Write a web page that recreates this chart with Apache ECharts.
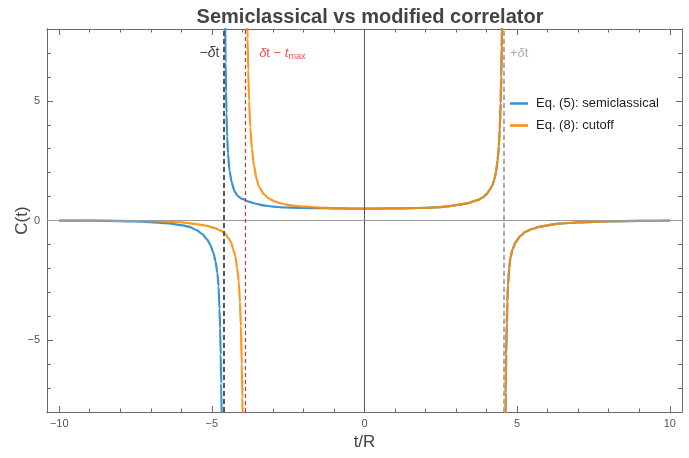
<!DOCTYPE html>
<html><head><meta charset="utf-8">
<script src="https://cdn.jsdelivr.net/npm/echarts@6/dist/echarts.min.js"></script>
<style>html,body{margin:0;padding:0;background:#fff}#c{width:689px;height:458px}</style>
</head><body><div id="c"></div>
<script>
// ---- tick labels ----
const xMajorTicks = [-10, -5, 0, 5, 10];
const xMinorTicks = [-9, -8, -7, -6, -4, -3, -2, -1, 1, 2, 3, 4, 6, 7, 8, 9];
const yMajorTicks = [-5, 0, 5];
const yMinorTicks = [-7, -6, -4, -3, -2, -1, 1, 2, 3, 4, 6, 7];

// ---- reference lines (t/R) ----
const negDeltaT = -4.62;   // -δt
const cutoffT = -3.91;     // δt - t_max
const posDeltaT = 4.57;    // +δt

// ---- Eq. (5) semiclassical: branch left of -δt ----
const tBlueL = [-10, -9, -8, -7.5, -7, -6.5, -6, -5.75, -5.5, -5.3, -5.15, -5.05, -4.95, -4.88, -4.82, -4.78, -4.75, -4.73, -4.71, -4.695, -4.675];
const cBlueL = [-0.003, -0.008, -0.025, -0.04, -0.065, -0.11, -0.19, -0.26, -0.4, -0.58, -0.8, -1.02, -1.35, -1.7, -2.2, -2.75, -3.7, -4.5, -5.6, -6.8, -8.4];
// ---- Eq. (5): branch right of -δt until it joins Eq. (8) ----
const tBlueM = [-4.565, -4.55, -4.535, -4.52, -4.50, -4.47, -4.42, -4.35, -4.26, -4.15, -4.0, -3.8, -3.55, -3.3, -3.0, -2.7, -2.4, -2.0, -1.5];
const cBlueM = [8.5, 6.6, 5.4, 4.5, 3.5, 2.8, 2.07, 1.6, 1.23, 1.02, 0.9, 0.79, 0.7, 0.63, 0.58, 0.55, 0.535, 0.525, 0.515];

// ---- Eq. (8) cutoff: left branch ----
const tOrgL = [-10, -9, -8, -7, -6.5, -6, -5.5, -5.2, -4.9, -4.7, -4.55, -4.45, -4.37, -4.3, -4.23, -4.17, -4.12, -4.08, -4.05, -4.02, -4.0, -3.985];
const cOrgL = [-0.002, -0.005, -0.012, -0.03, -0.05, -0.075, -0.15, -0.21, -0.32, -0.43, -0.56, -0.75, -0.92, -1.2, -1.5, -2.0, -2.55, -3.4, -4.4, -6.0, -7.4, -8.6];
// ---- Eq. (8): branch right of the cutoff until it joins Eq. (5) ----
const tOrgM = [-3.845, -3.83, -3.81, -3.78, -3.74, -3.69, -3.62, -3.54, -3.45, -3.3, -3.15, -2.95, -2.7, -2.4, -2.0, -1.5];
const cOrgM = [8.6, 7.6, 6.3, 5.0, 3.9, 3.0, 2.3, 1.75, 1.4, 1.1, 0.93, 0.8, 0.7, 0.63, 0.58, 0.54];

// ---- both curves: central part up to +δt ----
const tShared = [-1, -0.5, 0, 0.5, 1, 1.5, 2, 2.5, 2.8, 3.1, 3.4, 3.7, 3.86, 4.0, 4.1, 4.18, 4.25, 4.31, 4.36, 4.40, 4.43, 4.46, 4.48, 4.495, 4.51];
const cShared = [0.51, 0.5, 0.5, 0.5, 0.505, 0.515, 0.53, 0.56, 0.6, 0.66, 0.73, 0.85, 0.95, 1.1, 1.28, 1.45, 1.7, 2.05, 2.5, 3.1, 3.8, 4.9, 6.0, 7.3, 8.6];
// ---- both curves: branch right of +δt ----
const tRight = [4.615, 4.625, 4.64, 4.66, 4.68, 4.70, 4.74, 4.78, 4.85, 4.95, 5.1, 5.27, 5.5, 5.71, 6.0, 6.36, 7.0, 7.5, 8, 9, 10];
const cRight = [-8.6, -7.2, -5.6, -4.3, -3.4, -2.7, -2.0, -1.55, -1.2, -0.9, -0.65, -0.47, -0.35, -0.27, -0.2, -0.13, -0.08, -0.055, -0.035, -0.015, -0.005];

const zip = (ts, cs) => ts.map((t, i) => [t, cs[i]]);
const blueData = [].concat(zip(tBlueL, cBlueL), [[negDeltaT, '-']], zip(tBlueM, cBlueM), zip(tShared, cShared), [[posDeltaT, '-']], zip(tRight, cRight));
const orangeData = [].concat(zip(tOrgL, cOrgL), [[cutoffT, '-']], zip(tOrgM, cOrgM), zip(tShared, cShared), [[posDeltaT, '-']], zip(tRight, cRight));

const FONT = '"Liberation Sans", Arial, Helvetica, sans-serif';
const minus = v => String(v).replace('-', '\u2212');
const frameColor = '#6a6a6a';

function xAx(pos, ticks, len, labels) {
  return {
    type: 'value', position: pos, min: -10.4, max: 10.4, gridIndex: 0,
    axisLine: { show: true, onZero: false, lineStyle: { color: frameColor, width: 1 } },
    axisTick: { show: true, inside: true, length: len, customValues: ticks, lineStyle: { color: frameColor } },
    axisLabel: labels ? { show: true, customValues: ticks, formatter: minus, color: '#555', fontSize: 11, margin: 6, fontFamily: FONT } : { show: false },
    splitLine: { show: false }
  };
}
function yAx(pos, ticks, len, labels) {
  return {
    type: 'value', position: pos, min: -8, max: 8, gridIndex: 0,
    axisLine: { show: true, onZero: false, lineStyle: { color: frameColor, width: 1 } },
    axisTick: { show: true, inside: true, length: len, customValues: ticks, lineStyle: { color: frameColor } },
    axisLabel: labels ? { show: true, customValues: ticks, formatter: minus, color: '#555', fontSize: 11, margin: 7, fontFamily: FONT } : { show: false },
    splitLine: { show: false }
  };
}

const xAxes = [xAx('bottom', xMajorTicks, 6, true), xAx('bottom', xMinorTicks, 3.5, false), xAx('top', xMajorTicks, 6, false), xAx('top', xMinorTicks, 3.5, false)];
Object.assign(xAxes[0], { name: 't/R', nameLocation: 'middle', nameGap: 22, nameMoveOverlap: false, nameTextStyle: { fontSize: 17, color: '#444', fontFamily: FONT } });
const yAxes = [yAx('left', yMajorTicks, 6, true), yAx('left', yMinorTicks, 4, false), yAx('right', yMajorTicks, 6, false), yAx('right', yMinorTicks, 4, false)];
Object.assign(yAxes[0], { name: 'C(t)', nameLocation: 'middle', nameGap: 16, nameMoveOverlap: false, nameTextStyle: { fontSize: 17, color: '#444', fontFamily: FONT } });

const blueColor = '#3A93D1';
const orangeColor = '#FF8A00';

const chart = echarts.init(document.getElementById('c'), null, { renderer: 'canvas' });
chart.setOption({
  animation: false,
  backgroundColor: '#fff',
  textStyle: { fontFamily: FONT },
  title: {
    text: 'Semiclassical vs modified correlator', left: 365, textAlign: 'center', top: 2,
    textStyle: { fontSize: 20, fontWeight: 'bold', color: '#444', fontFamily: FONT }
  },
  grid: { left: 47, right: 7, top: 29, bottom: 46, containLabel: false, outerBoundsMode: 'none' },
  xAxis: xAxes,
  yAxis: yAxes,
  legend: {
    orient: 'vertical', left: 505, top: 92, itemGap: 9, itemWidth: 18, itemHeight: 2.5, icon: 'rect',
    textStyle: { fontSize: 13, color: '#222', fontFamily: FONT, padding: [0, 0, 0, 3] },
    data: ['Eq. (5): semiclassical', 'Eq. (8): cutoff']
  },
  series: [
    {
      type: 'line', name: 'axes', xAxisIndex: 0, yAxisIndex: 0, data: [], z: 1, silent: true,
      markLine: {
        silent: true, symbol: ['none', 'none'], label: { show: false }, animation: false,
        data: [
          { xAxis: 0, lineStyle: { color: '#555', type: 'solid', width: 1 } },
          { yAxis: 0, lineStyle: { color: '#9a9a9a', type: 'solid', width: 1 } }
        ]
      }
    },
    {
      type: 'line', name: 'Eq. (5): semiclassical', xAxisIndex: 0, yAxisIndex: 0, data: blueData, z: 2,
      showSymbol: false, symbol: 'none', smooth: 0.2, smoothMonotone: 'x', clip: true, connectNulls: false,
      color: blueColor, lineStyle: { color: blueColor, width: 2.2 }
    },
    {
      type: 'line', name: 'Eq. (8): cutoff', xAxisIndex: 0, yAxisIndex: 0, data: orangeData, z: 3,
      showSymbol: false, symbol: 'none', smooth: 0.2, smoothMonotone: 'x', clip: true, connectNulls: false,
      color: orangeColor, lineStyle: { color: orangeColor, width: 2.2, opacity: 0.88 }
    },
    {
      type: 'scatter', name: 'refs', xAxisIndex: 0, yAxisIndex: 0, z: 4, silent: true, symbolSize: 0,
      data: [
        { value: [negDeltaT, 7.0], label: { show: true, position: 'left', distance: 4, formatter: '\u2212{i|δ}t', color: '#111', fontSize: 14, rich: { i: { fontStyle: 'italic', fontSize: 14, color: '#111' } } } },
        { value: [cutoffT, 7.0], label: { show: true, position: 'right', distance: 14, formatter: '{i|δ}t \u2212 {i|t}{s|max}', color: '#ee1c1c', fontSize: 13, rich: { i: { fontStyle: 'italic', fontSize: 13, color: '#ee1c1c' }, s: { fontSize: 9, color: '#ee1c1c', padding: [8, 0, 0, 0] } } } },
        { value: [posDeltaT, 7.0], label: { show: true, position: 'right', distance: 6, formatter: '+{i|δ}t', color: '#999', fontSize: 13, rich: { i: { fontStyle: 'italic', fontSize: 13, color: '#999' } } } }
      ],
      markLine: {
        silent: true, symbol: ['none', 'none'], label: { show: false }, animation: false,
        data: [
          { xAxis: negDeltaT, lineStyle: { color: '#555', type: [5, 3], width: 2 } },
          { xAxis: cutoffT, lineStyle: { color: '#ff2020', type: [4, 3], width: 1.1 } },
          { xAxis: posDeltaT, lineStyle: { color: '#aaaaaa', type: [5, 3], width: 2 } }
        ]
      }
    }
  ]
});
</script>
</body></html>
